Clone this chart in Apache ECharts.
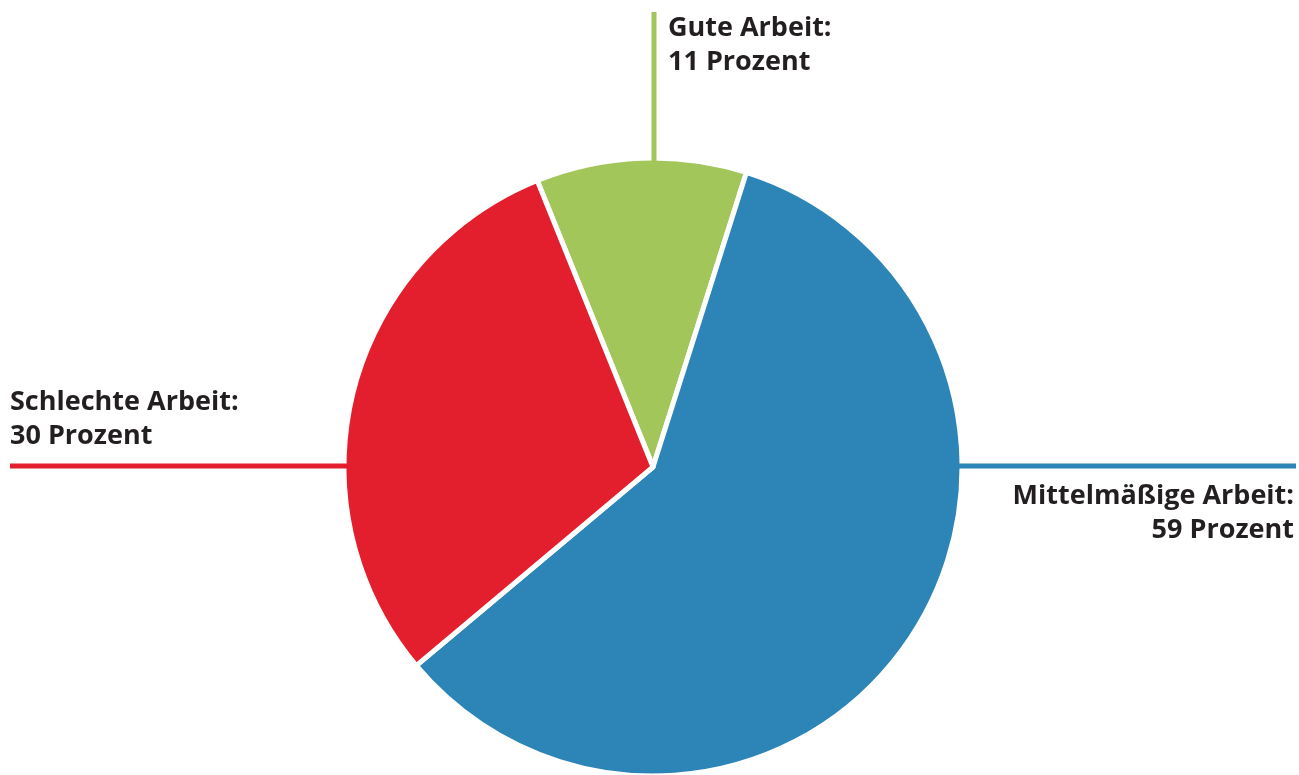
<!DOCTYPE html>
<html>
<head>
<meta charset="utf-8">
<script src="https://cdn.jsdelivr.net/npm/echarts@6/dist/echarts.min.js"></script>
<style>
  html, body { margin: 0; padding: 0; background: #ffffff; }
  #chart { width: 1299px; height: 775px; }
</style>
</head>
<body>
<div id="chart"></div>
<script>
// Bewertung der Arbeit (Anteile in Prozent)
const categories = ['Gute Arbeit', 'Mittelmäßige Arbeit', 'Schlechte Arbeit'];
const values = [11, 59, 30];
const colors = ['#a3c65a', '#2c84b7', '#e31f2d'];

// Label placement per slice: text anchor + leader line
const labelPlacement = [
  { x: 668, y: 45, align: 'left', line: [[654, 166], [654, 12]] },
  { x: 1294, y: 513, align: 'right', line: [[958, 466], [1296, 466]] },
  { x: 10, y: 419, align: 'left', line: [[348, 466], [10, 466]] }
];

const chart = echarts.init(document.getElementById('chart'), null, { renderer: 'canvas' });

// Leader lines sit on top of the pie so they meet the slice edge
const leaderLines = labelPlacement.map((p, i) => ({
  type: 'line',
  z: 100,
  silent: true,
  shape: { x1: p.line[0][0], y1: p.line[0][1], x2: p.line[1][0], y2: p.line[1][1] },
  style: { stroke: colors[i], lineWidth: 5 }
}));

chart.setOption({
  backgroundColor: '#ffffff',
  animation: false,
  graphic: leaderLines,
  series: [{
    type: 'pie',
    center: [653, 467],
    radius: [0, 309],
    startAngle: 112,
    clockwise: true,
    avoidLabelOverlap: false,
    data: categories.map((name, i) => ({
      name: name,
      value: values[i],
      itemStyle: { color: colors[i] }
    })),
    itemStyle: { borderColor: '#ffffff', borderWidth: 5 },
    label: {
      show: true,
      position: 'outside',
      formatter: p => p.name + ':\n' + p.value + ' Prozent',
      fontFamily: 'Open Sans',
      fontWeight: 'bold',
      fontSize: 27,
      lineHeight: 34,
      color: '#231f20'
    },
    labelLine: { show: false },
    labelLayout: params => {
      const p = labelPlacement[params.dataIndex];
      return {
        x: p.x,
        y: p.y,
        align: p.align,
        verticalAlign: 'middle'
      };
    },
    emphasis: { disabled: true }
  }]
});
</script>
</body>
</html>
